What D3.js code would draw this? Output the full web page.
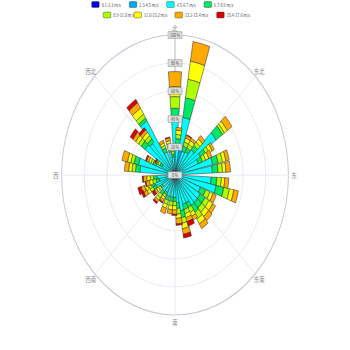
<!DOCTYPE html>
<html>
<head>
<meta charset="utf-8">
<script src="https://cdn.jsdelivr.net/npm/d3@7"></script>
<style>
  html, body { margin: 0; padding: 0; background: #fff; }
  svg { display: block; font-family: "Noto Sans CJK SC", "Noto Sans", sans-serif; }
</style>
</head>
<body>
<svg id="chart" width="350" height="350"></svg>
<script>
// Speed bins (legend order) and their colours
const speedBins = ["0.1-2.3 m/s", "2.3-4.5 m/s", "4.5-6.7 m/s", "6.7-8.9 m/s",
                   "8.9-11.0 m/s", "11.0-13.2 m/s", "13.2-15.4 m/s", "15.4-17.6 m/s"];
const binColors = ["#0000d8", "#00a8f8", "#00ffff", "#00e868",
                   "#b0ff00", "#ffff00", "#ffaa00", "#dd0000"];

// Wind direction of each bar, degrees clockwise from north
const directions = [0, 6, 14, 24, 33, 43, 51, 58, 64, 73, 83,
                    97, 106, 116, 126, 135, 144, 151, 158, 166, 174,
                    181, 190, 202, 213, 223, 235, 244, 250, 256, 264,
                    278, 287, 296, 301, 309, 317, 323, 333, 346, 353];

// Frequency (%) per direction for each speed bin
const bin1 = [1, 1, 5, 1, 1, 1, 1, 1, 1, 1, 1,  1, 1, 1, 1, 1, 1, 1, 1, 1, 1,  1, 1, 1, 1, 1, 1, 1, 1, 1, 1,  1, 1, 1, 1, 1, 1, 1, 1, 1, 1];
const bin2 = [3, 4, 15, 3, 3, 3, 3, 3, 3, 3, 3,  3, 3, 3, 3, 3, 3, 3, 3, 3, 3,  3, 3, 3, 3, 3, 3, 3, 3, 3, 3,  3, 3, 3, 3, 3, 3, 3, 3, 3, 3];
const bin3 = [36.7, 17, 21.8, 14, 15, 19, 40, 22, 18, 30, 29,  28, 33, 20, 22, 22, 22, 18, 18, 22, 16,  12, 12, 12, 10, 11, 9, 14, 15, 10, 12,  27, 29, 14, 9, 28, 26, 42, 14, 13, 9];
const bin4 = [7, 4, 14.2, 4, 3, 4, 7, 5, 4, 5, 5,  5, 7, 5, 5, 5, 6, 4, 4, 5, 4,  3, 3, 3, 2, 3, 2, 3, 3, 3, 3,  4, 4, 3, 2, 4, 3, 2.3, 3, 3, 2];
const bin5 = [8.3, 3, 13.4, 3, 3, 3, 2, 3, 3, 4, 4,  4, 5, 4, 4, 4, 5, 4, 3, 4, 4,  3, 3, 3, 2, 3, 2, 3, 3, 3, 3,  3, 3, 2, 2, 3, 3, 3.3, 2, 3, 2];
const bin6 = [7.2, 3, 13.1, 3, 3, 3, 3, 3, 3, 3, 3,  3, 4, 3, 4, 4, 4, 3, 3, 4, 3,  3, 3, 3, 2, 2, 2, 3, 3, 3, 3,  3, 3, 2, 1, 3, 3, 5, 2, 2, 2];
const bin7 = [10.7, 2, 14.2, 2, 2, 3, 5, 2, 3, 3, 4,  3.5, 4, 3, 3, 4, 4, 3, 3, 4, 4,  3, 3, 4, 2, 2, 2, 3, 3, 3, 3,  3.7, 4.9, 2, 1, 3, 2.4, 4.6, 2, 2, 1];
const bin8 = [0, 0, 0, 0.5, 0, 0, 0, 0, 0, 0, 0,  0, 0, 0, 0, 0, 0, 0, 3.4, 2.7, 1,  1, 0, 0, 1, 1.3, 2.6, 2, 3, 0.7, 1,  0, 0, 1, 1, 3, 2, 3, 0, 0.6, 0];
const bins = [bin1, bin2, bin3, bin4, bin5, bin6, bin7, bin8];

const radialTicks = [0, 20, 40, 60, 80, 100];
const compass = ["北", "东北", "东", "东南", "南", "西南", "西", "西北"];

// Drawing area: laid out wider than tall and compressed horizontally
const W = 350, H = 350, sx = 0.81;
const innerW = W / sx;
const cx = innerW / 2, cy = 175, R = 140;
const barWidthDeg = 9;

const svg = d3.select("#chart");
const root = svg.append("g").attr("transform", `scale(${sx},1)`);

const r = d3.scaleLinear().domain([0, 100]).range([0, R]);
const ang = d3.scaleLinear().domain([0, 360]).range([0, 2 * Math.PI]);

const polar = root.append("g").attr("transform", `translate(${cx},${cy})`);

// grid circles
polar.append("g").selectAll("circle")
  .data(radialTicks.filter(d => d > 0))
  .join("circle")
  .attr("r", d => r(d))
  .attr("fill", "none")
  .attr("stroke", d => d === 100 ? "#c8cbd6" : "#e6e9f2")
  .attr("stroke-width", d => d === 100 ? 1.2 : 1);

// spokes every 45 degrees
polar.append("g").selectAll("line")
  .data(d3.range(0, 360, 45))
  .join("line")
  .attr("x1", 0).attr("y1", 0)
  .attr("x2", d => R * Math.sin(ang(d)))
  .attr("y2", d => -R * Math.cos(ang(d)))
  .attr("stroke", "#e6e9f2");

// radius axis line
polar.append("line")
  .attr("x1", 0).attr("y1", 0).attr("x2", 0).attr("y2", -R)
  .attr("stroke", "#c4c4c4").attr("stroke-width", 1.2);

// stacked bars
const stacked = directions.map((dir, i) => {
  let acc = 0;
  return bins.map((b, k) => {
    const seg = { dir, k, r0: acc, r1: acc + b[i] };
    acc += b[i];
    return seg;
  });
});

const arc = d3.arc()
  .innerRadius(d => r(d.r0))
  .outerRadius(d => r(d.r1))
  .startAngle(d => ang(d.dir - barWidthDeg / 2))
  .endAngle(d => ang(d.dir + barWidthDeg / 2));

const barsG = polar.append("g");
bins.forEach((b, k) => {
  barsG.append("g").selectAll("path")
    .data(stacked.map(s => s[k]).filter(d => d.r1 > d.r0))
    .join("path")
    .attr("d", arc)
    .attr("fill", binColors[k])
    .attr("stroke", "#333")
    .attr("stroke-width", 0.6);
});

// compass labels
polar.append("g").selectAll("text")
  .data(compass)
  .join("text")
  .attr("x", (d, i) => 147 * Math.sin(ang(i * 45)))
  .attr("y", (d, i) => -147 * Math.cos(ang(i * 45)))
  .attr("text-anchor", "middle")
  .attr("dominant-baseline", "central")
  .attr("font-size", 6.5)
  .attr("fill", "#8a8a8a")
  .text(d => d);

// radius tick labels in boxes
const tickG = polar.append("g").selectAll("g")
  .data(radialTicks)
  .join("g")
  .attr("transform", d => `translate(0,${-r(d)})`);
tickG.append("rect")
  .attr("x", -8.6).attr("y", -3.2).attr("width", 17.2).attr("height", 6.4)
  .attr("fill", "#e2e2e2").attr("stroke", "#8c8c8c").attr("stroke-width", 0.6);
tickG.append("text")
  .attr("text-anchor", "middle")
  .attr("dominant-baseline", "central")
  .attr("font-size", 4.5)
  .attr("fill", "#444")
  .text(d => `${d} %`);

// legend (two rows)
const legendRows = [
  { y: 4.5, xs: [113.2, 159.6, 205.8, 251.9], items: [0, 1, 2, 3] },
  { y: 15, xs: [127.5, 165.4, 216, 267.5], items: [4, 5, 6, 7] }
];
const legend = root.append("g");
legendRows.forEach(row => {
  row.items.forEach((k, j) => {
    const g = legend.append("g").attr("transform", `translate(${row.xs[j]},${row.y})`);
    g.append("rect")
      .attr("x", 0).attr("y", -2.9).attr("width", 9.3).attr("height", 5.8)
      .attr("rx", 1)
      .attr("fill", binColors[k]).attr("stroke", "#444").attr("stroke-width", 0.5);
    g.append("text")
      .attr("x", 12.4).attr("y", 0)
      .attr("dominant-baseline", "central")
      .attr("font-size", 4.6)
      .attr("fill", "#444")
      .text(speedBins[k]);
  });
});
</script>
</body>
</html>
